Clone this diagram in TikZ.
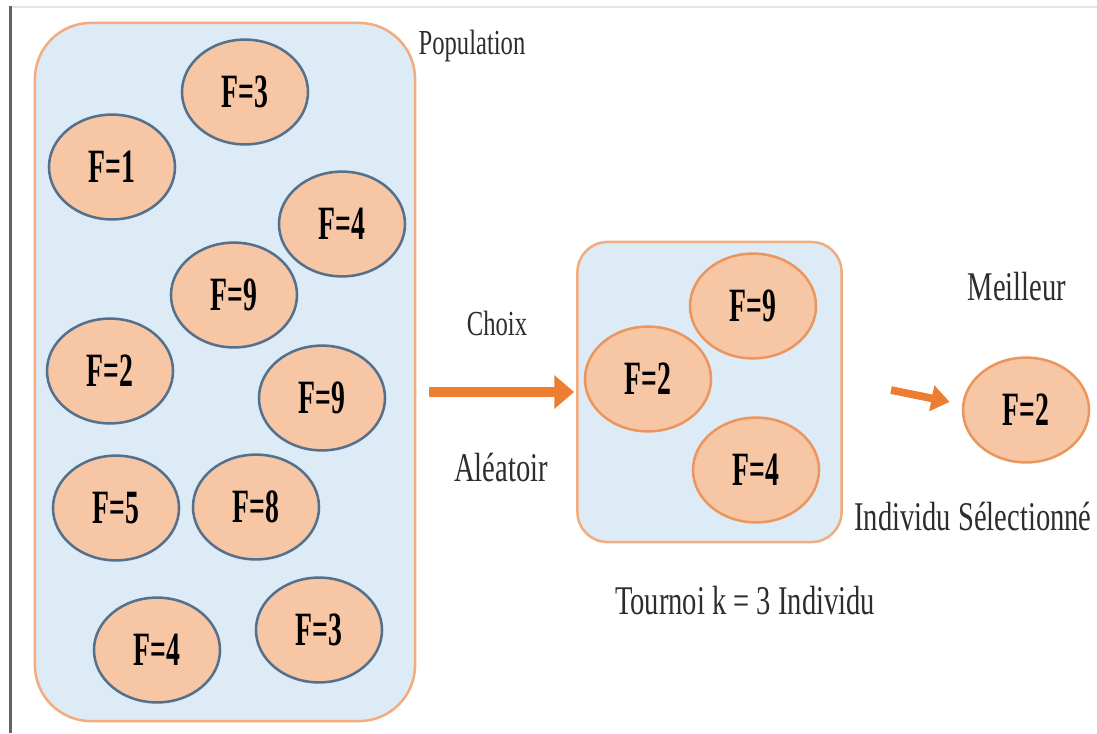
\documentclass[tikz,border=0pt]{standalone}
\usepackage{fontspec}
\setmainfont{Liberation Serif}[FakeStretch=0.7]
\newfontfamily\fitfont{Liberation Serif}[FakeStretch=0.58]
\usepackage{xcolor}
\definecolor{DarkGray}{RGB}{45,45,45}
\definecolor{FrameGray}{RGB}{100,100,100}
\definecolor{FaintLine}{RGB}{238,226,218}
\definecolor{FillBlue}{RGB}{221,235,247}
\definecolor{BorderOrange}{RGB}{242,172,125}
\definecolor{FillPeach}{RGB}{247,198,164}
\definecolor{BorderSlate}{RGB}{84,112,140}
\definecolor{BorderPeach}{RGB}{236,150,95}
\definecolor{ArrowOrange}{RGB}{237,125,49}
\usepackage{tikz}
\usetikzlibrary{shapes.geometric, arrows.meta, positioning, calc}
\tikzset{
  % Population / tournament frame
  pbox/.style={
    rectangle, draw=BorderOrange, line width=1.8pt,
    fill=FillBlue
  },
  % Individual (fitness ellipse)
  indiv/.style={
    ellipse, draw=BorderSlate, line width=1.8pt,
    fill=FillPeach,
    minimum width=3.15cm, minimum height=2.62cm,
    inner sep=0pt,
    font=\fitfont\bfseries\fontsize{34}{34}\selectfont
  },
  indiv orange/.style={indiv, draw=BorderPeach},
  % Text labels
  lbl/.style={font=\fontsize{29}{29}\selectfont, text=DarkGray},
  lbl small/.style={lbl, font=\fontsize{25}{25}\selectfont},
  % Arrows
  arr/.style={-{Triangle[length=14pt,width=23pt]}, line width=7pt, ArrowOrange},
  arr small/.style={-{Triangle[length=13pt,width=18pt]}, line width=5.5pt, ArrowOrange},
}

\begin{document}
\begin{tikzpicture}[x=0.025cm, y=-0.025cm]

  \useasboundingbox (0,0) rectangle (1097,733);

  %% Window edges
  \draw[line width=0.8pt, FaintLine] (10,7) -- (1097,7);
  \draw[line width=2.8pt, FrameGray] (10.5,6) -- (10.5,733);

  %% Frames
  \node[pbox, rounded corners=1.4cm, minimum width=9.5cm, minimum height=17.45cm]
    (pop) at (225,372) {};
  \node[pbox, rounded corners=0.75cm, minimum width=6.6cm, minimum height=7.5cm]
    (tour) at (709.5,392) {};

  %% Population
  \node[indiv] (p1) at (245,92) {F=3};
  \node[indiv] (p2) at (112,167) {F=1};
  \node[indiv] (p3) at (342,224) {F=4};
  \node[indiv] (p4) at (234,295) {F=9};
  \node[indiv] (p5) at (110,371) {F=2};
  \node[indiv] (p6) at (322,398) {F=9};
  \node[indiv] (p7) at (116,508) {F=5};
  \node[indiv] (p8) at (256,507) {F=8};
  \node[indiv] (p9) at (157,650) {F=4};
  \node[indiv] (p10) at (319,630) {F=3};

  %% Tournament
  \node[indiv orange] (t1) at (753,306) {F=9};
  \node[indiv orange] (t2) at (648,379) {F=2};
  \node[indiv orange] (t3) at (756,470) {F=4};

  %% Winner
  \node[indiv orange] (best) at (1026,410) {F=2};

  %% Labels
  \node[lbl small] (poplbl) at (472,46) {Population};
  \node[lbl small] (choix) at (497,323) {Choix};
  \node[lbl] (alea) at (501,468) {Aléatoir};
  \node[lbl] (tourlbl) at (745,601) {Tournoi k = 3 Individu};
  \node[lbl] (meil) at (1017,287) {Meilleur};
  \node[lbl] (sellbl) at (973,517) {Individu Sélectionné};

  %% Arrows
  \draw[arr, shorten <=9pt, shorten >=1.5pt] (pop.east |- tour.west) -- (tour.west);
  \draw[arr small, shorten <=35pt, shorten >=9pt] (tour.5) -- (best.175);

\end{tikzpicture}
\end{document}
